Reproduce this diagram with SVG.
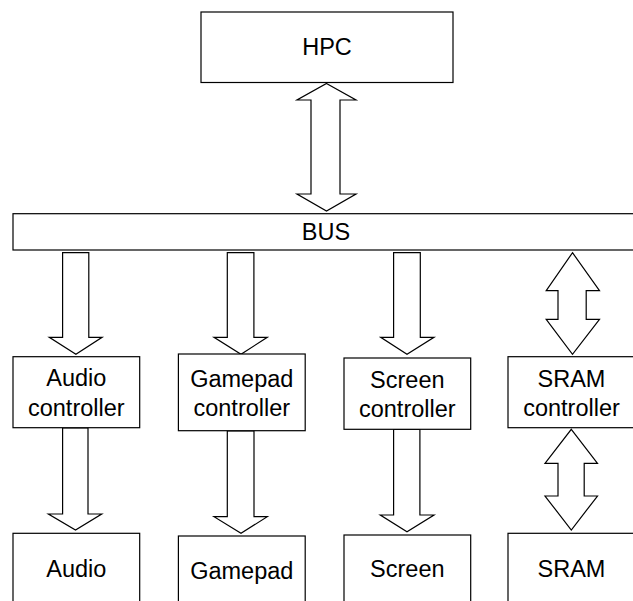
<svg xmlns="http://www.w3.org/2000/svg" width="633" height="601" viewBox="0 0 633 601">
<style>
.box{fill:#fff;stroke:#000;stroke-width:1.2}
.arr{fill:#fff;stroke:#000;stroke-width:1.2;stroke-linejoin:miter}
text{font-family:"Liberation Sans",Arial,Helvetica,sans-serif;font-size:23.5px;fill:#000;text-anchor:middle}
</style>
<rect width="633" height="601" fill="#fff"/>
<g id="hpc"><rect class="box" x="201" y="12" width="252" height="70.5"/><text x="327" y="55">HPC</text></g>
<g id="bus"><rect class="box" x="13" y="213.7" width="626" height="36.3"/><text x="326" y="240">BUS</text></g>
<g id="connectors">
<polygon class="arr" points="326.5,83.5 356,100 340,100 340,194 356,194 326.5,211 297,194 311,194 311,100 297,100"/>
<polygon class="arr" points="62.6,252.7 88.8,252.7 88.8,337.3 102.1,337.3 75.9,354.3 49.3,337.3 62.6,337.3"/>
<polygon class="arr" points="227.3,252.7 253.9,252.7 253.9,337.3 267.3,337.3 241,354.3 214,337.3 227.3,337.3"/>
<polygon class="arr" points="393.6,252.7 420.3,252.7 420.3,337.3 434,337.3 407,354.3 380.7,337.3 393.6,337.3"/>
<polygon class="arr" points="572.5,252.7 599.5,290.7 586.2,290.7 586.2,319.3 599.5,319.3 572.5,354.3 546.2,319.3 558,319.3 558,290.7 546.2,290.7"/>
<polygon class="arr" points="62.6,428 88,428 88,514 101.7,514 75.5,530 48.4,514 62.6,514"/>
<polygon class="arr" points="227.3,431 254,431 254,516.7 267.3,516.7 241,533.3 214,516.7 227.3,516.7"/>
<polygon class="arr" points="393.6,429.5 419.9,429.5 419.9,515 434,515 407,531.7 380.3,515 393.6,515"/>
<polygon class="arr" points="571.3,429.3 597.5,463.3 584.2,463.3 584.2,496 597.5,496 571.3,530 545,496 558,496 558,463.3 545,463.3"/>
</g>
<g id="audio-controller"><rect class="box" x="13" y="356.7" width="126.7" height="71"/><text x="76.3" y="385.7">Audio</text><text x="76.3" y="415.7">controller</text></g>
<g id="gamepad-controller"><rect class="box" x="178.4" y="354" width="126.8" height="76.7"/><text x="241.8" y="386.7">Gamepad</text><text x="241.8" y="416">controller</text></g>
<g id="screen-controller"><rect class="box" x="344" y="358" width="126.7" height="71.3"/><text x="407.3" y="387.7">Screen</text><text x="407.3" y="416.7">controller</text></g>
<g id="sram-controller"><rect class="box" x="508" y="356.7" width="127" height="71"/><text x="571.5" y="386.5">SRAM</text><text x="571.5" y="416">controller</text></g>
<g id="audio"><rect class="box" x="13" y="533.3" width="126.7" height="71"/><text x="76.3" y="576.5">Audio</text></g>
<g id="gamepad"><rect class="box" x="178.4" y="536" width="126.8" height="71"/><text x="241.8" y="579.3">Gamepad</text></g>
<g id="screen"><rect class="box" x="344" y="535" width="126.7" height="71"/><text x="407.3" y="577.3">Screen</text></g>
<g id="sram"><rect class="box" x="508" y="533.3" width="127" height="71"/><text x="571.5" y="576.5">SRAM</text></g>
</svg>
